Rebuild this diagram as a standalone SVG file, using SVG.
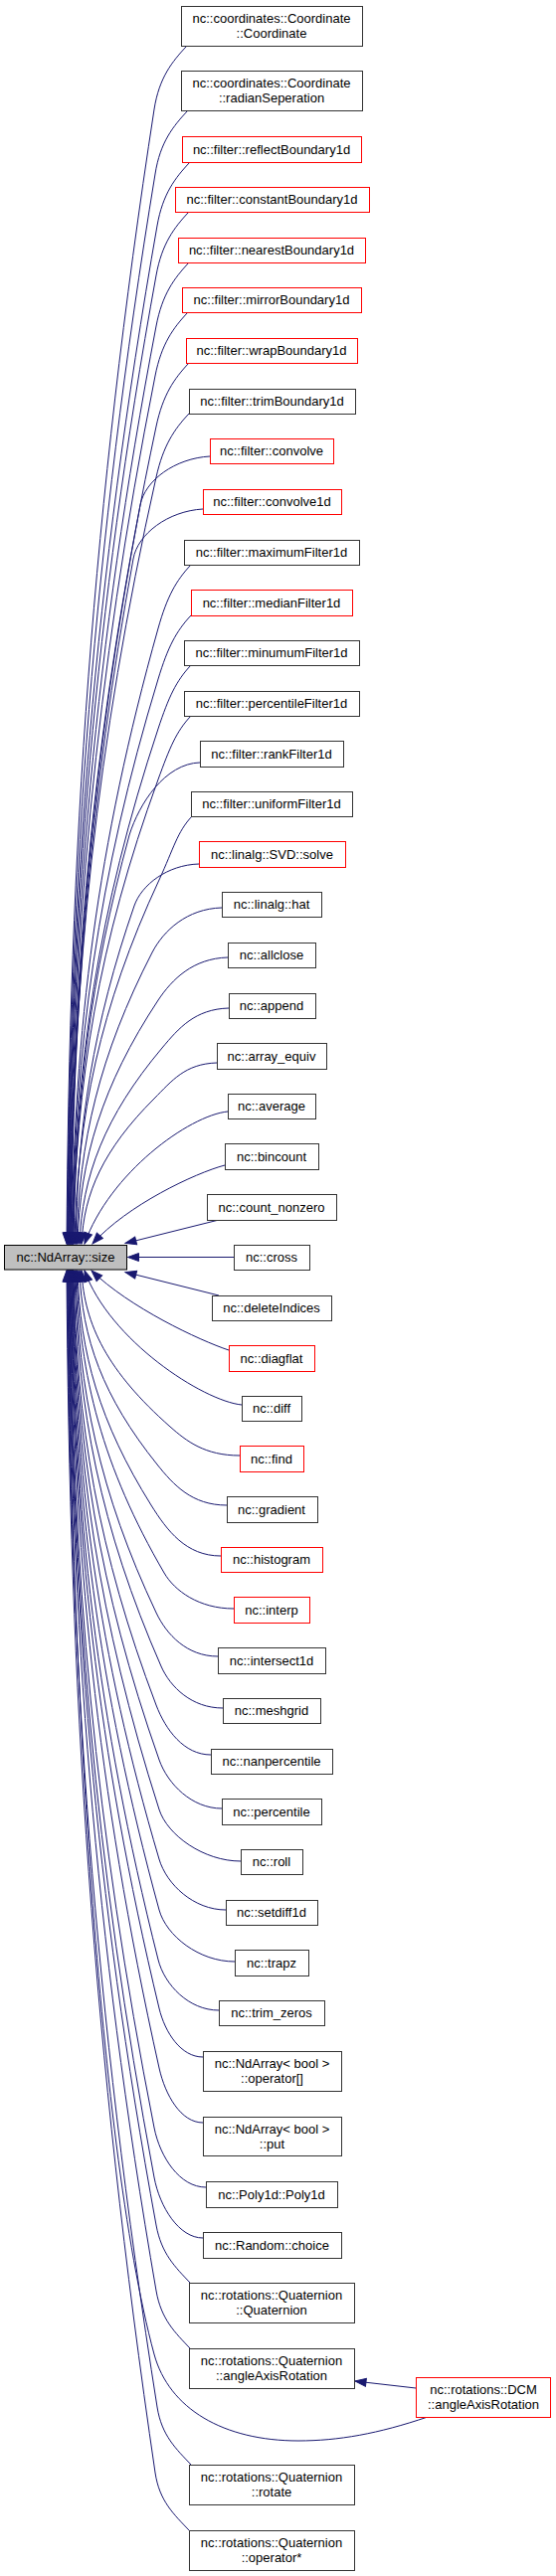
<svg xmlns="http://www.w3.org/2000/svg" width="559" height="2591" viewBox="0 0 559 2591">
<style>
.n rect{fill:#fff;stroke:#333;stroke-width:1}
.r rect{stroke:#ff0000}
.m rect{fill:#bfbfbf;stroke:#000;stroke-width:1}
text{font-family:"Liberation Sans",Arial,sans-serif;font-size:13px;text-anchor:middle;fill:#000}
#edges path{fill:none;stroke:#191970;stroke-width:1;marker-end:url(#ah)}
</style>
<defs>
<marker id="ah" markerUnits="userSpaceOnUse" markerWidth="14" markerHeight="12" refX="11" refY="4.5" orient="auto" overflow="visible">
<path d="M0,0.5 L11,4.5 L0,8.5 z" fill="#191970" stroke="#191970" stroke-width="1"/>
</marker>
</defs>
<rect width="559" height="2591" fill="#fff"/>
<g id="edges">
<path d="M188,46 C173,62 160,78 155,110 C93.4,510 69.6,852 67,1251"/>
<path d="M189,111 C174,127 161,143 156,175 C94,552 70.2,875 67.5,1251"/>
<path d="M191,163 C176,179 163.6,195 158,227 C95,586 70.7,893 68,1251"/>
<path d="M190,213 C175,229 162.8,245 157,277 C95,618 71.2,911 68.5,1251"/>
<path d="M190,264 C175,280 163.1,296 157,328 C95.4,651 71.6,929 69,1251"/>
<path d="M189,314 C174,330 162.3,346 156,378 C95.5,684 72.1,946 69.5,1251"/>
<path d="M190,365 C175,381 163.8,397 157,429 C96,717 72.6,964 70,1251"/>
<path d="M190,416 C175,432 164.2,448 157,480 C96.5,750 73.1,982 70.5,1251"/>
<path d="M211,459 C176,461 145.7,483 141,508 C92,768 73.1,992 71,1251"/>
<path d="M204,512 C169,514 138.5,537 134,562 C90.3,803 73.4,1010 71.5,1251"/>
<path d="M192,568 C177,584 168,600 159,632 C98,849 74.6,1035 72,1251"/>
<path d="M192,619 C177,635 168.7,651 159,683 C98.5,882 75.1,1053 72.5,1251"/>
<path d="M192,669 C177,685 169.6,701 159,733 C98.8,915 75.6,1070 73,1251"/>
<path d="M192,720 C177,736 170.7,752 159,784 C99.2,948 76.1,1088 73.5,1251"/>
<path d="M201,767 C166,768 140,808 130,840 C90.8,984 75.7,1108 74,1251"/>
<path d="M193,821 C178,837 174.8,853 160,885 C100.5,1013 77.6,1123 75,1251"/>
<path d="M200,869 C168,870 142.3,890 135,911 C93.7,1030 77.8,1133 76,1251"/>
<path d="M223,913 C188,914 164.4,936 153,958 C100,1061 79.3,1149 77,1251"/>
<path d="M229,963 C194,964 173,985 159,1006 C102.3,1092 80.4,1166 78,1251"/>
<path d="M230,1014 C196,1015 179.8,1034 163,1054 C105,1123 82.5,1183 80,1251"/>
<path d="M218,1069 C186,1070 172.9,1087 155,1105 C104,1156 84.2,1200 82,1251"/>
<path d="M229,1118 C190,1122 110,1180 85,1251"/>
<path d="M226,1172 C196,1180 128,1212 93,1251"/>
<path d="M220,1227 L126,1250.5"/>
<path d="M235,1264.5 L128.5,1264.5"/>
<path d="M220,1303 L126,1279.5"/>
<path d="M230,1358 C200,1348 130,1315 92,1278"/>
<path d="M243,1413 C204,1409 110,1348 85,1278"/>
<path d="M241,1464 C206,1464 187.4,1449.5 171,1435 C108.7,1380 84.7,1333 82,1278"/>
<path d="M228,1514 C193,1514 174.4,1493.5 158,1473 C103.4,1405 82.3,1346 80,1278"/>
<path d="M222,1565 C187,1565 168,1539.5 152,1514 C100.2,1431 80.2,1361 78,1278"/>
<path d="M235,1618 C200,1618 175.4,1600 165,1582 C103.4,1476 79.6,1384 77,1278"/>
<path d="M219,1666 C188,1666 167.3,1644 157,1622 C100.3,1502 78.4,1398 76,1278"/>
<path d="M224,1718 C193,1718 171.2,1697 162,1676 C101.1,1537 77.6,1417 75,1278"/>
<path d="M212,1765 C185,1765 166.5,1740 157,1715 C98.9,1562 76.5,1431 74,1278"/>
<path d="M223,1819 C193,1819 168.6,1794.5 160,1770 C99.4,1598 76.1,1450 73.5,1278"/>
<path d="M242,1872 C205,1872 168.3,1846 160,1820 C99.1,1630 75.6,1468 73,1278"/>
<path d="M227,1921 C195,1921 167.5,1895.5 160,1870 C98.75,1663 75.1,1485 72.5,1278"/>
<path d="M236,1973 C200,1973 167.1,1947 160,1921 C98.4,1696 74.6,1503 72,1278"/>
<path d="M220,2022 C190,2022 165.4,1996.5 159,1971 C97.75,1728 74.1,1521 71.5,1278"/>
<path d="M204,2069 C182,2069 165.9,2044.5 160,2020 C97.7,1760 73.7,1538 71,1278"/>
<path d="M204,2135 C182,2135 166.1,2107.5 160,2080 C97.35,1799 73.2,1559 70.5,1278"/>
<path d="M207,2200 C181,2200 160.9,2170 155,2140 C95.5,1838 72.5,1580 70,1278"/>
<path d="M204,2251 C180,2251 160.6,2220 155,2190 C95.15,1871 72.1,1597 69.5,1278"/>
<path d="M191,2296 C176,2280 162.3,2267 157,2238 C95.4,1902 71.6,1614 69,1278"/>
<path d="M191,2362 C176,2346 162,2333 157,2304 C95,1945 71.2,1637 68.5,1278"/>
<path d="M430,2431 C380,2448 340,2455 300,2455 C225,2455 170,2423 155,2368 C96.4,2151 70.5,1640 68,1278"/>
<path d="M192,2479 C177,2463 162.6,2450 158,2421 C94.65,2021 70.2,1678 67.5,1278"/>
<path d="M190,2545 C175,2529 160.3,2516 156,2487 C93.7,2064 69.7,1701 67,1278"/>
<path d="M418,2402 L357,2395"/>
</g>
<g id="main" class="m"><rect x="4.5" y="1252.5" width="123" height="24.5"/><text x="66" y="1269">nc::NdArray::size</text></g>
<g id="n0" class="n"><rect x="182.5" y="6.5" width="182" height="40"/><text x="273" y="22.5">nc::coordinates::Coordinate</text><text x="273" y="37.5">::Coordinate</text></g>
<g id="n1" class="n"><rect x="182.5" y="71.5" width="182" height="40"/><text x="273" y="87.5">nc::coordinates::Coordinate</text><text x="273" y="102.5">::radianSeperation</text></g>
<g id="n2" class="n r"><rect x="183.5" y="137.5" width="180" height="26"/><text x="273" y="154.5">nc::filter::reflectBoundary1d</text></g>
<g id="n3" class="n r"><rect x="176.5" y="188.5" width="195" height="25"/><text x="273.5" y="205">nc::filter::constantBoundary1d</text></g>
<g id="n4" class="n r"><rect x="179.5" y="239.5" width="188" height="25"/><text x="273" y="256">nc::filter::nearestBoundary1d</text></g>
<g id="n5" class="n r"><rect x="183.5" y="289.5" width="180" height="25"/><text x="273" y="306">nc::filter::mirrorBoundary1d</text></g>
<g id="n6" class="n r"><rect x="187.5" y="340.5" width="172" height="25"/><text x="273" y="357">nc::filter::wrapBoundary1d</text></g>
<g id="n7" class="n"><rect x="190.5" y="391.5" width="167" height="25"/><text x="273.5" y="408">nc::filter::trimBoundary1d</text></g>
<g id="n8" class="n r"><rect x="211.5" y="441.5" width="124" height="25"/><text x="273" y="458">nc::filter::convolve</text></g>
<g id="n9" class="n r"><rect x="204.5" y="492.5" width="139" height="25"/><text x="273.5" y="509">nc::filter::convolve1d</text></g>
<g id="n10" class="n"><rect x="185.5" y="543.5" width="176" height="25"/><text x="273" y="560">nc::filter::maximumFilter1d</text></g>
<g id="n11" class="n r"><rect x="192.5" y="593.5" width="162" height="26"/><text x="273" y="610.5">nc::filter::medianFilter1d</text></g>
<g id="n12" class="n"><rect x="185.5" y="644.5" width="176" height="25"/><text x="273" y="661">nc::filter::minumumFilter1d</text></g>
<g id="n13" class="n"><rect x="185.5" y="695.5" width="176" height="25"/><text x="273" y="712">nc::filter::percentileFilter1d</text></g>
<g id="n14" class="n"><rect x="201.5" y="745.5" width="144" height="26"/><text x="273" y="762.5">nc::filter::rankFilter1d</text></g>
<g id="n15" class="n"><rect x="192.5" y="796.5" width="162" height="25"/><text x="273" y="813">nc::filter::uniformFilter1d</text></g>
<g id="n16" class="n r"><rect x="200.5" y="846.5" width="147" height="26"/><text x="273.5" y="863.5">nc::linalg::SVD::solve</text></g>
<g id="n17" class="n"><rect x="223.5" y="897.5" width="100" height="25"/><text x="273" y="914">nc::linalg::hat</text></g>
<g id="n18" class="n"><rect x="229.5" y="948.5" width="88" height="25"/><text x="273" y="965">nc::allclose</text></g>
<g id="n19" class="n"><rect x="230.5" y="999.5" width="87" height="25"/><text x="273" y="1016">nc::append</text></g>
<g id="n20" class="n"><rect x="218.5" y="1049.5" width="110" height="26"/><text x="273" y="1066.5">nc::array_equiv</text></g>
<g id="n21" class="n"><rect x="229.5" y="1100.5" width="88" height="25"/><text x="273" y="1117">nc::average</text></g>
<g id="n22" class="n"><rect x="226.5" y="1150.5" width="94" height="26"/><text x="273" y="1167.5">nc::bincount</text></g>
<g id="n23" class="n"><rect x="208.5" y="1201.5" width="130" height="26"/><text x="273" y="1218.5">nc::count_nonzero</text></g>
<g id="n24" class="n"><rect x="235.5" y="1252.5" width="76" height="25"/><text x="273" y="1269">nc::cross</text></g>
<g id="n25" class="n"><rect x="213.5" y="1303.5" width="120" height="25"/><text x="273" y="1320">nc::deleteIndices</text></g>
<g id="n26" class="n r"><rect x="230.5" y="1353.5" width="86" height="26"/><text x="273" y="1370.5">nc::diagflat</text></g>
<g id="n27" class="n"><rect x="243.5" y="1404.5" width="60" height="25"/><text x="273" y="1421">nc::diff</text></g>
<g id="n28" class="n r"><rect x="241.5" y="1454.5" width="64" height="26"/><text x="273" y="1471.5">nc::find</text></g>
<g id="n29" class="n"><rect x="228.5" y="1505.5" width="91" height="26"/><text x="273" y="1522.5">nc::gradient</text></g>
<g id="n30" class="n r"><rect x="222.5" y="1556.5" width="102" height="25"/><text x="273" y="1573">nc::histogram</text></g>
<g id="n31" class="n r"><rect x="235.5" y="1606.5" width="76" height="26"/><text x="273" y="1623.5">nc::interp</text></g>
<g id="n32" class="n"><rect x="219.5" y="1657.5" width="108" height="26"/><text x="273" y="1674.5">nc::intersect1d</text></g>
<g id="n33" class="n"><rect x="224.5" y="1708.5" width="98" height="25"/><text x="273" y="1725">nc::meshgrid</text></g>
<g id="n34" class="n"><rect x="212.5" y="1759.5" width="122" height="25"/><text x="273" y="1776">nc::nanpercentile</text></g>
<g id="n35" class="n"><rect x="223.5" y="1809.5" width="100" height="26"/><text x="273" y="1826.5">nc::percentile</text></g>
<g id="n36" class="n"><rect x="242.5" y="1860.5" width="62" height="25"/><text x="273" y="1877">nc::roll</text></g>
<g id="n37" class="n"><rect x="227.5" y="1911.5" width="92" height="25"/><text x="273" y="1928">nc::setdiff1d</text></g>
<g id="n38" class="n"><rect x="236.5" y="1961.5" width="74" height="26"/><text x="273" y="1978.5">nc::trapz</text></g>
<g id="n39" class="n"><rect x="220.5" y="2012.5" width="106" height="25"/><text x="273" y="2029">nc::trim_zeros</text></g>
<g id="n40" class="n"><rect x="204.5" y="2063.5" width="139" height="40"/><text x="273.5" y="2079.5">nc::NdArray&lt; bool &gt;</text><text x="273.5" y="2094.5">::operator[]</text></g>
<g id="n41" class="n"><rect x="204.5" y="2129.5" width="139" height="39"/><text x="273.5" y="2145.5">nc::NdArray&lt; bool &gt;</text><text x="273.5" y="2160.5">::put</text></g>
<g id="n42" class="n"><rect x="207.5" y="2194.5" width="132" height="26"/><text x="273" y="2211.5">nc::Poly1d::Poly1d</text></g>
<g id="n43" class="n"><rect x="204.5" y="2245.5" width="139" height="26"/><text x="273.5" y="2262.5">nc::Random::choice</text></g>
<g id="n44" class="n"><rect x="190.5" y="2296.5" width="166" height="40"/><text x="273" y="2312.5">nc::rotations::Quaternion</text><text x="273" y="2327.5">::Quaternion</text></g>
<g id="n45" class="n"><rect x="190.5" y="2362.5" width="166" height="40"/><text x="273" y="2378.5">nc::rotations::Quaternion</text><text x="273" y="2393.5">::angleAxisRotation</text></g>
<g id="n46" class="n"><rect x="190.5" y="2479.5" width="166" height="40"/><text x="273" y="2495.5">nc::rotations::Quaternion</text><text x="273" y="2510.5">::rotate</text></g>
<g id="n47" class="n"><rect x="190.5" y="2545.5" width="166" height="40"/><text x="273" y="2561.5">nc::rotations::Quaternion</text><text x="273" y="2576.5">::operator*</text></g>
<g id="n48" class="n r"><rect x="418.5" y="2391.5" width="135" height="40"/><text x="486" y="2407.5">nc::rotations::DCM</text><text x="486" y="2422.5">::angleAxisRotation</text></g>
</svg>
